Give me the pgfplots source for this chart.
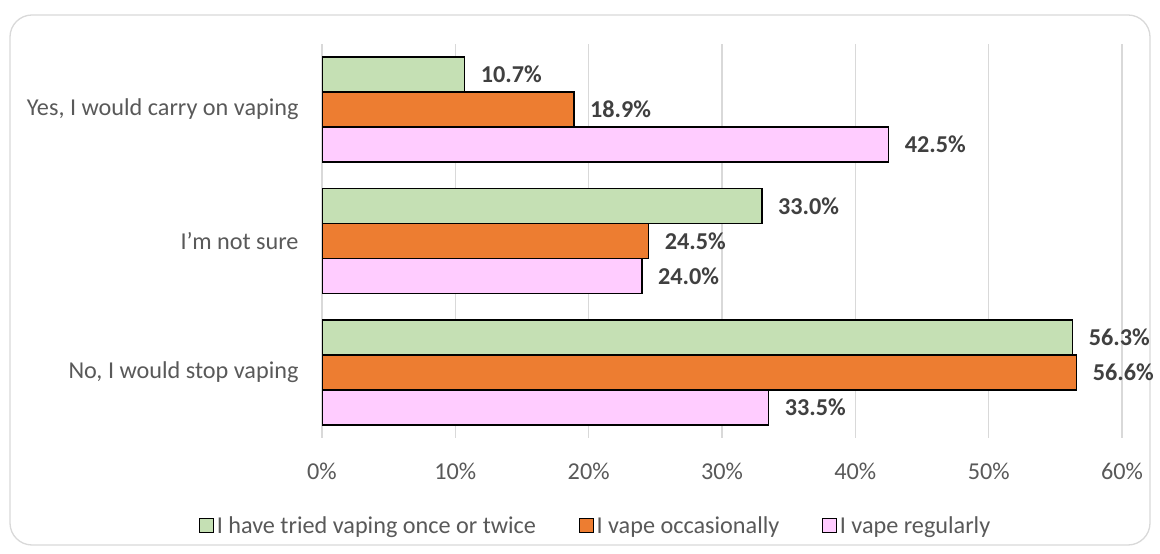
\documentclass[border=0pt]{standalone}
\usepackage{fontspec}
\setmainfont{Carlito}
\usepackage{pgfplots}
\pgfplotsset{compat=1.18}
\definecolor{cgreen}{HTML}{C5E0B4}
\definecolor{corange}{HTML}{ED7D31}
\definecolor{cpink}{HTML}{FFCCFF}
\definecolor{ctext}{HTML}{595959}
\definecolor{clabel}{HTML}{404040}
\definecolor{cgrid}{HTML}{D9D9D9}
\newcommand{\fs}{\fontsize{24.3}{28}\selectfont}
\begin{document}
\begin{tikzpicture}
\path[use as bounding box] (0bp,0bp) rectangle (1160bp,554bp);
\draw[cgrid, line width=1.3bp, rounded corners=22bp, fill=white] (10bp,9bp) rectangle (1150bp,539bp);
\begin{axis}[
  at={(322bp,116bp)}, anchor=south west,
  scale only axis, width=800bp, height=394bp,
  xbar, bar width=35bp,
  xmin=0, xmax=60, ymin=-0.5, ymax=2.5,
  /pgf/number format/assume math mode=true,
  ytick={0,1,2},
  yticklabels={{No, I would stop vaping},{I’m not sure},{Yes, I would carry on vaping}},
  xtick={0,10,...,60},
  xticklabel={\pgfmathprintnumber{\tick}\%},
  xmajorgrids, grid style={cgrid, line width=1.2bp},
  axis line style={draw=none},
  major tick length=0pt,
  tick label style={font=\fs, text=ctext},
  xticklabel style={yshift=-21bp},
  yticklabel style={xshift=-20bp},
  nodes near coords={\pgfmathprintnumber[fixed,fixed zerofill,precision=1]{\pgfplotspointmeta}\%},
  nodes near coords style={font=\fs\bfseries, text=clabel, anchor=west, xshift=12bp},
  point meta=x,
  legend columns=3,
  legend style={at={(-0.158,-0.222)}, anchor=west, draw=none, fill=none,
    font=\fs, text=ctext, column sep=0bp, nodes={inner xsep=2.5bp}},
  legend image code/.code={\draw[#1,draw=black,line width=1.5bp] (0bp,-7bp) rectangle (14bp,7bp);},
]
\addplot[fill=cgreen, draw=black, line width=1.6bp, bar shift=35bp] coordinates {(56.3,0) (33.0,1) (10.7,2)};
\addlegendentry{I have tried vaping once or twice\rule{40bp}{0pt}}
\addplot[fill=corange, draw=black, line width=1.6bp, bar shift=0bp] coordinates {(56.6,0) (24.5,1) (18.9,2)};
\addlegendentry{I vape occasionally\rule{40bp}{0pt}}
\addplot[fill=cpink, draw=black, line width=1.6bp, bar shift=-35bp] coordinates {(33.5,0) (24.0,1) (42.5,2)};
\addlegendentry{I vape regularly}
\end{axis}
\end{tikzpicture}
\end{document}
